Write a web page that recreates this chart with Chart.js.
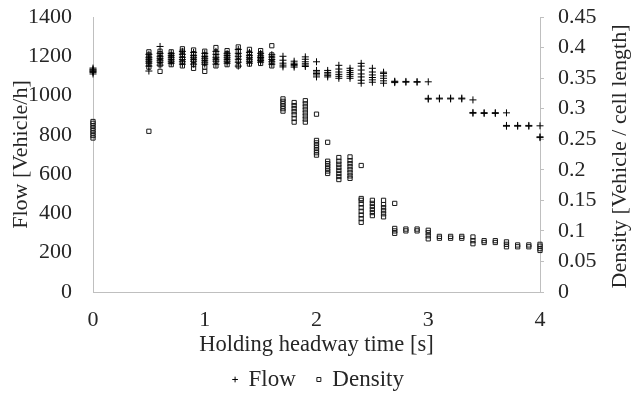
<!DOCTYPE html>
<html>
<head>
<meta charset="utf-8">
<script src="https://cdn.jsdelivr.net/npm/chart.js@4.4.0/dist/chart.umd.min.js"></script>
<style>
  html, body { margin: 0; padding: 0; background: #fff; }
  #wrap { width: 631px; height: 394px; }
</style>
</head>
<body>
<div id="wrap"><canvas id="chart"></canvas></div>
<script>
// holding headway time [s] of each simulation group
const headways = [0, 0.5, 0.6, 0.7, 0.8, 0.9, 1.0, 1.1, 1.2, 1.3, 1.4, 1.5, 1.6, 1.7, 1.8, 1.9,
    2.0, 2.1, 2.2, 2.3, 2.4, 2.5, 2.6, 2.7, 2.8, 2.9, 3.0, 3.1, 3.2, 3.3, 3.4, 3.5, 3.6, 3.7, 3.8, 3.9, 4.0];

// flow [vehicle/h], one list of runs per headway
const flowRuns = [
    [1110, 1118, 1122, 1126, 1130, 1134, 1140],
    [1125, 1150, 1165, 1175, 1185, 1195, 1210],
    [1155, 1170, 1180, 1190, 1200, 1215, 1250],
    [1165, 1175, 1185, 1195, 1205, 1215],
    [1160, 1172, 1183, 1195, 1210, 1225],
    [1160, 1175, 1185, 1195, 1205, 1220],
    [1160, 1170, 1180, 1190, 1200, 1215],
    [1160, 1175, 1185, 1195, 1210, 1225],
    [1165, 1175, 1185, 1195, 1205, 1215],
    [1150, 1170, 1185, 1200, 1215, 1235],
    [1165, 1175, 1185, 1195, 1205, 1220],
    [1170, 1178, 1186, 1194, 1202, 1215],
    [1160, 1172, 1184, 1196, 1208],
    [1146, 1155, 1165, 1180, 1200],
    [1145, 1152, 1158, 1165, 1175],
    [1148, 1155, 1162, 1172, 1185, 1197],
    [1095, 1105, 1112, 1120, 1128, 1172],
    [1095, 1103, 1110, 1118, 1128],
    [1088, 1098, 1108, 1120, 1135, 1154],
    [1088, 1098, 1108, 1118, 1128, 1139],
    [1063, 1078, 1095, 1110, 1130, 1150, 1164],
    [1068, 1080, 1092, 1105, 1120, 1139],
    [1063, 1075, 1088, 1100, 1112, 1119],
    [1066, 1070, 1073],
    [1068, 1072],
    [1068, 1071],
    [982, 986, 1070],
    [983, 987],
    [983, 987],
    [983, 987],
    [910, 914, 978],
    [909, 913],
    [909, 913],
    [844, 848, 912],
    [844, 848],
    [844, 848],
    [786, 790, 846]
];

// density [vehicle / cell length], one list of runs per headway
const densityRuns = [
    [0.252, 0.256, 0.260, 0.264, 0.268, 0.272, 0.276, 0.279],
    [0.263, 0.368, 0.373, 0.378, 0.383, 0.388, 0.393],
    [0.361, 0.372, 0.378, 0.384, 0.390, 0.394],
    [0.372, 0.377, 0.383, 0.388, 0.393],
    [0.370, 0.376, 0.382, 0.388, 0.394, 0.398],
    [0.366, 0.372, 0.378, 0.384, 0.390, 0.396],
    [0.361, 0.368, 0.375, 0.382, 0.388, 0.394],
    [0.370, 0.378, 0.385, 0.392, 0.400],
    [0.372, 0.378, 0.384, 0.390, 0.395],
    [0.370, 0.378, 0.386, 0.394, 0.401],
    [0.373, 0.379, 0.385, 0.391, 0.397],
    [0.374, 0.380, 0.385, 0.390, 0.395],
    [0.370, 0.376, 0.382, 0.388, 0.403],
    [0.296, 0.300, 0.304, 0.308, 0.312, 0.316],
    [0.278, 0.284, 0.290, 0.295, 0.300, 0.305, 0.310],
    [0.278, 0.283, 0.288, 0.293, 0.298, 0.303, 0.308, 0.313],
    [0.224, 0.228, 0.232, 0.236, 0.240, 0.244, 0.248, 0.291],
    [0.194, 0.198, 0.202, 0.206, 0.210, 0.214, 0.245],
    [0.184, 0.189, 0.194, 0.199, 0.204, 0.209, 0.214, 0.220],
    [0.186, 0.190, 0.195, 0.200, 0.205, 0.210, 0.215, 0.221],
    [0.114, 0.120, 0.126, 0.132, 0.138, 0.144, 0.150, 0.153, 0.207],
    [0.125, 0.130, 0.135, 0.140, 0.145, 0.150],
    [0.123, 0.128, 0.133, 0.138, 0.143, 0.150],
    [0.096, 0.100, 0.104, 0.145],
    [0.100, 0.103],
    [0.100, 0.103],
    [0.087, 0.092, 0.097, 0.101],
    [0.088, 0.091],
    [0.088, 0.091],
    [0.088, 0.091],
    [0.079, 0.084, 0.090],
    [0.081, 0.084],
    [0.081, 0.084],
    [0.074, 0.078, 0.082],
    [0.074, 0.077],
    [0.074, 0.077],
    [0.068, 0.071, 0.075, 0.078]
];

const xTicks = [0, 1, 2, 3, 4];
const flowTicks = [0, 200, 400, 600, 800, 1000, 1200, 1400];
const densityTicks = [0, 0.05, 0.1, 0.15, 0.2, 0.25, 0.3, 0.35, 0.4, 0.45];

function toPoints(runs) {
    const pts = [];
    headways.forEach((h, i) => {
        runs[i].forEach(v => pts.push({ x: h, y: v }));
    });
    return pts;
}

const axisGrey = '#bfbfbf';
const textColor = '#262626';
const serif = '"Liberation Serif", "Times New Roman", serif';

Chart.defaults.font.family = serif;
Chart.defaults.font.size = 22;
Chart.defaults.color = textColor;

// right axis title reads bottom-to-top like the left one
const rightTitle = {
    id: 'rightTitle',
    afterDraw(chart) {
        const { ctx, chartArea } = chart;
        ctx.save();
        ctx.translate(chart.width - 11, (chartArea.top + chartArea.bottom) / 2 + 2);
        ctx.rotate(-Math.PI / 2);
        ctx.font = '22px ' + serif;
        ctx.fillStyle = textColor;
        ctx.textAlign = 'center';
        ctx.textBaseline = 'middle';
        ctx.fillText('Density [Vehicle / cell length]', 0, 0);
        ctx.restore();
    }
};

// keep the tick padding from pushing the plot area down
function fixVertical(width) {
    return s => {
        s.width = width;
        s.paddingTop = 10;
        s.paddingBottom = 10;
    };
}

new Chart(document.getElementById('chart'), {
    type: 'scatter',
    data: {
        datasets: [{
            label: 'Flow',
            data: toPoints(flowRuns),
            yAxisID: 'y',
            pointStyle: 'cross',
            pointRadius: 3.5,
            borderWidth: 1,
            borderColor: '#000',
            backgroundColor: '#000',
            clip: false
        }, {
            label: 'Density',
            data: toPoints(densityRuns),
            yAxisID: 'y2',
            pointStyle: 'rect',
            pointRadius: 3,
            borderWidth: 1,
            borderColor: '#1a1a1a',
            backgroundColor: 'rgba(0,0,0,0)',
            clip: false
        }]
    },
    options: {
        responsive: true,
        maintainAspectRatio: false,
        animation: false,
        events: [],
        layout: { padding: { top: 17, left: 6, right: 0, bottom: 0 } },
        plugins: {
            tooltip: { enabled: false },
            legend: {
                position: 'bottom',
                maxHeight: 47,
                labels: {
                    usePointStyle: true,
                    boxWidth: 4,
                    boxHeight: 4,
                    padding: 21,
                    color: textColor,
                    font: { size: 23 }
                }
            }
        },
        scales: {
            x: {
                type: 'linear',
                min: 0,
                max: 4,
                afterBuildTicks: s => { s.ticks = xTicks.map(v => ({ value: v })); },
                afterFit: s => { s.height = 55; },
                grid: { display: false, drawTicks: false },
                border: { display: true, color: axisGrey, width: 1 },
                ticks: { padding: 15, autoSkip: false, maxRotation: 0, callback: v => String(v) },
                title: {
                    display: true,
                    text: 'Holding headway time [s]',
                    font: { size: 22.5, lineHeight: 1 },
                    padding: { top: 0, bottom: -9 }
                }
            },
            y: {
                position: 'left',
                min: 0,
                max: 1400,
                afterBuildTicks: s => { s.ticks = flowTicks.map(v => ({ value: v })); },
                afterFit: fixVertical(87),
                grid: { display: false, drawTicks: false },
                border: { display: true, color: axisGrey, width: 1 },
                ticks: { padding: 21, autoSkip: false, callback: v => String(v) },
                title: {
                    display: true,
                    text: 'Flow [Vehicle/h]',
                    font: { size: 22, lineHeight: 1 },
                    padding: { top: 4, bottom: 0 }
                }
            },
            y2: {
                position: 'right',
                min: 0,
                max: 0.45,
                afterBuildTicks: s => { s.ticks = densityTicks.map(v => ({ value: v })); },
                afterFit: fixVertical(91),
                grid: { display: true, drawOnChartArea: false, drawTicks: true, tickLength: 4, color: axisGrey },
                border: { display: true, color: axisGrey, width: 1 },
                ticks: { padding: 14, autoSkip: false, callback: v => String(+v.toFixed(2)) }
            }
        }
    },
    plugins: [rightTitle]
});
</script>
</body>
</html>
